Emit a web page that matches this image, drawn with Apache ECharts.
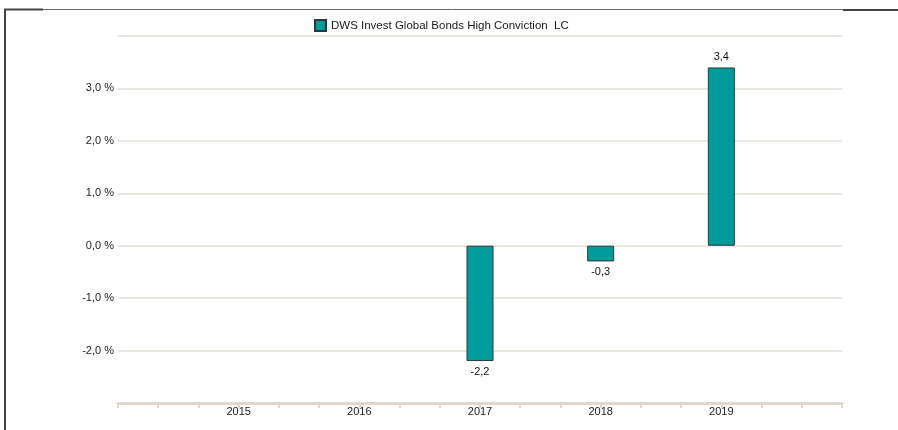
<!DOCTYPE html>
<html>
<head>
<meta charset="utf-8">
<script src="https://cdn.jsdelivr.net/npm/echarts@6/dist/echarts.min.js"></script>
<style>
html,body{margin:0;padding:0;background:#fff;}
#c{width:898px;height:430px;}
</style>
</head>
<body>
<div id="c"></div>
<script>
var seriesName = 'DWS Invest Global Bonds High Conviction  LC';
var years = ['2015', '2016', '2017', '2018', '2019'];
var values = [null, null, -2.2, -0.3, 3.4];
var yTicks = [-3, -2, -1, 0, 1, 2, 3, 4];

var fmt = function (v) { return v.toFixed(1).replace('.', ','); };

var data = years.map(function (y, i) {
  var v = values[i];
  return {
    value: [Number(y), v],
    label: { position: v !== null && v < 0 ? 'bottom' : 'top' }
  };
});

var chart = echarts.init(document.getElementById('c'), null, { renderer: 'canvas' });
chart.setOption({
  animation: false,
  textStyle: { fontFamily: 'Liberation Sans, Arial, sans-serif' },
  legend: {
    top: 14,
    left: 309,
    itemWidth: 11,
    itemHeight: 11,
    itemGap: 10,
    icon: 'rect',
    textStyle: { fontSize: 11.5, color: '#1a1a1a', padding: [0, 0, 0, 0] },
    data: [seriesName]
  },
  grid: { left: 118, right: 56, top: 36, bottom: 27 },
  xAxis: {
    type: 'value',
    min: Number(years[0]) - 1,
    max: Number(years[years.length - 1]) + 1,
    interval: 1,
    axisLine: { show: true, onZero: false, lineStyle: { color: '#ddd9cf', width: 3 } },
    axisTick: { show: true, length: 5, lineStyle: { color: '#ddd9cf', width: 2 } },
    minorTick: { show: true, splitNumber: 3, length: 5, lineStyle: { color: '#ddd9cf', width: 2 } },
    splitLine: { show: false },
    axisLabel: {
      fontSize: 11, color: '#222', margin: 3,
      formatter: function (v) { return years.indexOf(String(v)) >= 0 ? String(v) : ''; }
    }
  },
  yAxis: {
    type: 'value',
    min: yTicks[0],
    max: yTicks[yTicks.length - 1],
    interval: 1,
    axisLine: { show: false },
    axisTick: { show: false },
    splitLine: { lineStyle: { color: '#e4e1d9', width: 1.5 } },
    axisLabel: {
      fontSize: 11, color: '#222', margin: 4,
      formatter: function (v) {
        if (v === yTicks[0] || v === yTicks[yTicks.length - 1]) return '';
        return fmt(v) + ' %';
      }
    }
  },
  series: [{
    name: seriesName,
    type: 'bar',
    barWidth: 27,
    data: data,
    itemStyle: { color: '#009b9b', borderColor: '#2a3a3a', borderWidth: 1 },
    label: {
      show: true,
      fontSize: 11,
      color: '#111',
      distance: 5,
      formatter: function (p) { return p.value[1] === null ? '' : fmt(p.value[1]); }
    }
  }],
  graphic: [
    { type: 'line', shape: { x1: 5, y1: 9.5, x2: 898, y2: 9.5 }, style: { stroke: '#666', lineWidth: 1 } },
    { type: 'line', shape: { x1: 4, y1: 9.5, x2: 43, y2: 9.5 }, style: { stroke: '#444', lineWidth: 2 } },
    { type: 'line', shape: { x1: 843, y1: 10, x2: 898, y2: 10 }, style: { stroke: '#444', lineWidth: 2 } },
    { type: 'line', shape: { x1: 5, y1: 9, x2: 5, y2: 430 }, style: { stroke: '#444', lineWidth: 2 } }
  ]
});
</script>
</body>
</html>
